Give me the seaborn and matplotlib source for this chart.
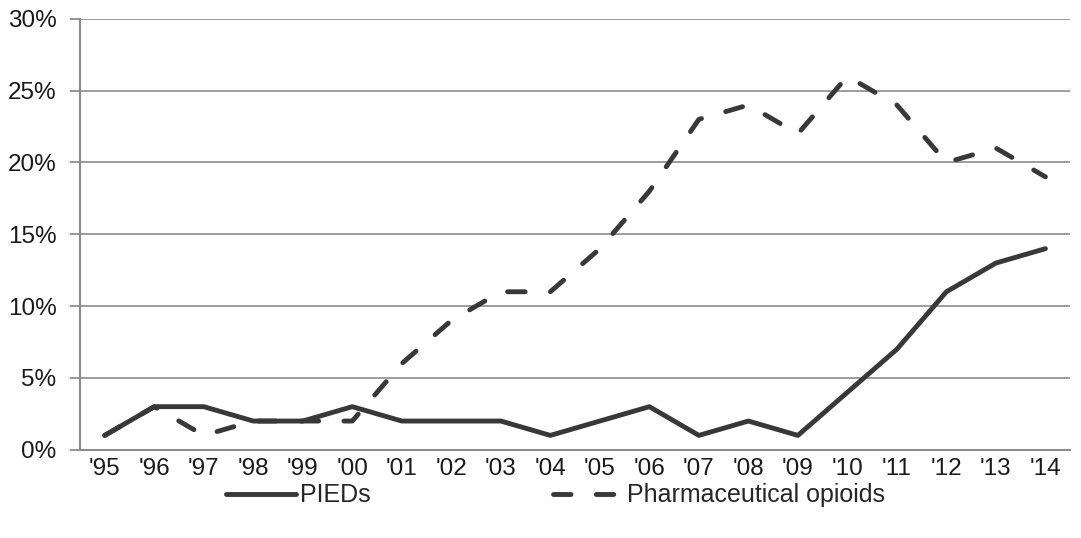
import matplotlib
matplotlib.use("Agg")
import matplotlib.pyplot as plt
import pandas as pd
import seaborn as sns
from matplotlib.ticker import FuncFormatter, FixedLocator

years = ["'95", "'96", "'97", "'98", "'99", "'00", "'01", "'02", "'03", "'04",
         "'05", "'06", "'07", "'08", "'09", "'10", "'11", "'12", "'13", "'14"]
pieds = [1, 3, 3, 2, 2, 3, 2, 2, 2, 1, 2, 3, 1, 2, 1, 4, 7, 11, 13, 14]
opioids = [1, 3, 1, 2, 2, 2, 6, 9, 11, 11, 14, 18, 23, 24, 22, 26, 24, 20, 21, 19]

df = pd.DataFrame({
    "Year": years * 2,
    "Value": pieds + opioids,
    "Series": ["PIEDs"] * len(years) + ["Pharmaceutical opioids"] * len(years),
})

sns.set_style("white")
plt.rcParams["font.family"] = ["Liberation Sans", "DejaVu Sans"]

fig = plt.figure(figsize=(10.81, 5.38), dpi=100)
ax = fig.add_axes([0.074, 0.164, 0.916, 0.801])

line_col = "#383838"
sns.lineplot(data=df, x="Year", y="Value", style="Series",
             dashes={"PIEDs": "", "Pharmaceutical opioids": (3.6, 5.2)},
             color=line_col, linewidth=3.5, ax=ax, sort=False)
for ln in ax.lines:
    ln.set_solid_capstyle("round")
    ln.set_dash_capstyle("round")

ax.set_xlim(-0.5, len(years) - 0.5)
ax.set_ylim(0, 30)
ax.set_yticks(range(0, 31, 5))
ax.yaxis.set_major_formatter(FuncFormatter(lambda v, p: f"{int(v)}%"))
ax.set_xticks(range(len(years)))
ax.set_xticklabels(years)
ax.xaxis.set_minor_locator(FixedLocator([i - 0.5 for i in range(len(years) + 1)]))

grid_col = "#8c8c8c"
ax.grid(axis="y", color=grid_col, linewidth=1.2)
ax.set_axisbelow(True)
for s in ["top", "right"]:
    ax.spines[s].set_visible(False)
for s in ["left", "bottom"]:
    ax.spines[s].set_color(grid_col)
    ax.spines[s].set_linewidth(1.5)

ax.tick_params(axis="x", which="major", length=0, labelsize=17.5, colors="#1a1a1a", pad=6)
ax.tick_params(axis="x", which="minor", length=7, width=1.3, color=grid_col, direction="out")
ax.tick_params(axis="y", which="major", length=7, width=1.3, color=grid_col,
               labelsize=17.5, labelcolor="#1a1a1a", pad=10, left=True, direction="out")
ax.set_xlabel("")
ax.set_ylabel("")

handles, labels = ax.get_legend_handles_labels()
ax.legend(handles, labels, loc="center", bbox_to_anchor=(0.48, -0.106),
          ncol=2, frameon=False, fontsize=18, handlelength=2.8,
          handletextpad=0.15, columnspacing=7.3)

fig.savefig("out.png", dpi=100)
